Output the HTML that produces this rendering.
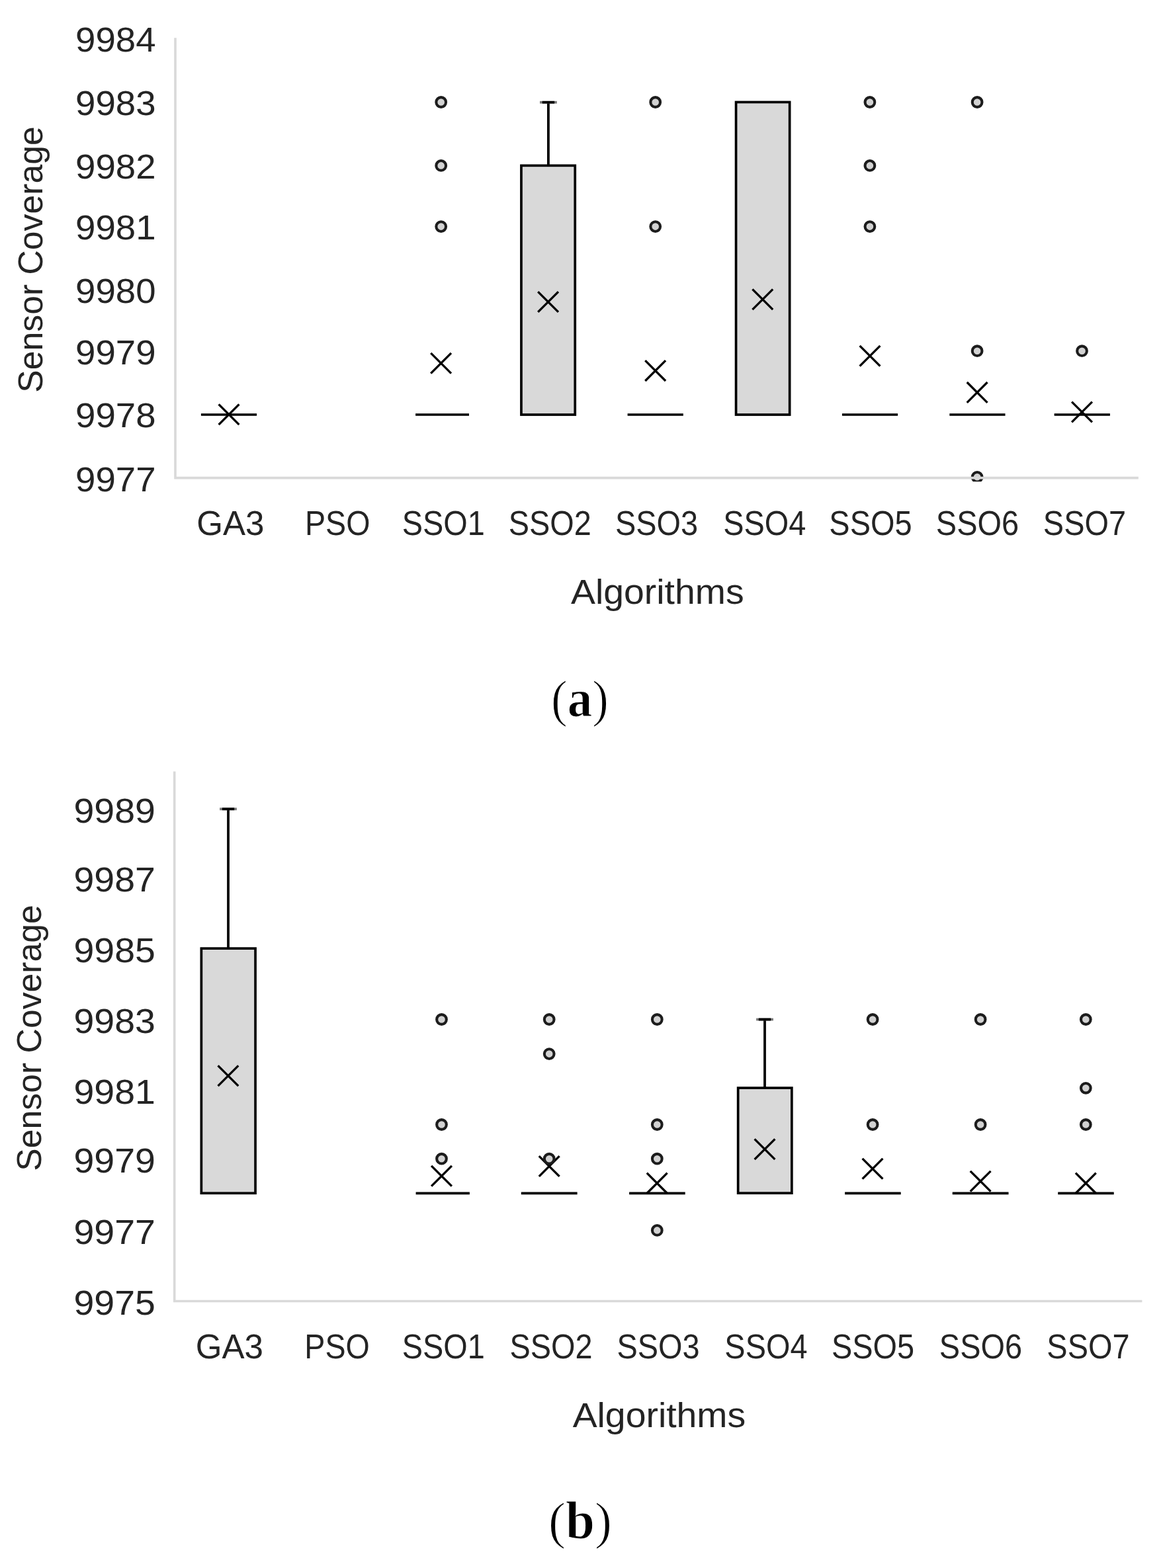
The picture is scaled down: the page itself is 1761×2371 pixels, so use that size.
<!DOCTYPE html>
<html lang="en">
<head>
<meta charset="utf-8">
<title>Sensor coverage box plots</title>
<style>
html,body{margin:0;padding:0;background:#fff;}
body{width:1761px;height:2371px;overflow:hidden;}
svg{display:block;}
text{white-space:pre;text-anchor:middle;}
text.s{font-family:"Liberation Sans", "DejaVu Sans", sans-serif;font-size:52px;fill:#242424;}
text.c{font-family:"Liberation Serif", "DejaVu Serif", serif;font-size:74px;fill:#000;stroke:#fff;stroke-width:1.1px;}
text.c tspan{font-weight:700;font-size:75px;}
</style>
</head>
<body>
<svg role="img" aria-label="Box plots of sensor coverage by algorithm" width="1761" height="2371" viewBox="0 0 1761 2371">
<rect width="1761" height="2371" fill="#fff"/>
<defs><clipPath id="clipA"><rect x="0" y="0" width="1761" height="728.2"/></clipPath></defs>
<g id="boxes">
<line x1="303.90" y1="627.00" x2="388.10" y2="627.00" stroke="#000" stroke-width="3.70"/>
<line x1="628.10" y1="627.00" x2="709.00" y2="627.00" stroke="#000" stroke-width="3.70"/>
<line x1="828.90" y1="154.70" x2="828.90" y2="250.40" stroke="#000" stroke-width="3.80"/><line x1="816.00" y1="154.70" x2="841.80" y2="154.70" stroke="#7a7a7a" stroke-width="3.80"/><line x1="819.70" y1="154.70" x2="838.10" y2="154.70" stroke="#000" stroke-width="3.80"/>
<rect x="787.95" y="250.35" width="81.30" height="376.70" fill="#d9d9d9" stroke="#000" stroke-width="3.70"/>
<line x1="948.60" y1="627.00" x2="1032.80" y2="627.00" stroke="#000" stroke-width="3.70"/>
<rect x="1112.55" y="154.45" width="81.10" height="472.60" fill="#d9d9d9" stroke="#000" stroke-width="3.70"/>
<line x1="1272.90" y1="627.00" x2="1357.10" y2="627.00" stroke="#000" stroke-width="3.70"/>
<line x1="1435.30" y1="627.00" x2="1519.50" y2="627.00" stroke="#000" stroke-width="3.70"/>
<line x1="1593.60" y1="627.00" x2="1677.90" y2="627.00" stroke="#000" stroke-width="3.70"/>
<line x1="345.00" y1="1223.30" x2="345.00" y2="1434.20" stroke="#000" stroke-width="3.80"/><line x1="332.10" y1="1223.30" x2="357.90" y2="1223.30" stroke="#7a7a7a" stroke-width="3.80"/><line x1="335.80" y1="1223.30" x2="354.20" y2="1223.30" stroke="#000" stroke-width="3.80"/>
<rect x="304.35" y="1434.15" width="81.70" height="370.10" fill="#d9d9d9" stroke="#000" stroke-width="3.70"/>
<line x1="628.60" y1="1804.40" x2="709.90" y2="1804.40" stroke="#000" stroke-width="3.70"/>
<line x1="787.80" y1="1804.40" x2="872.60" y2="1804.40" stroke="#000" stroke-width="3.70"/>
<line x1="951.10" y1="1804.40" x2="1035.70" y2="1804.40" stroke="#000" stroke-width="3.70"/>
<line x1="1156.00" y1="1541.50" x2="1156.00" y2="1645.00" stroke="#000" stroke-width="3.80"/><line x1="1143.10" y1="1541.50" x2="1168.90" y2="1541.50" stroke="#7a7a7a" stroke-width="3.80"/><line x1="1146.80" y1="1541.50" x2="1165.20" y2="1541.50" stroke="#000" stroke-width="3.80"/>
<rect x="1115.65" y="1645.05" width="81.20" height="159.10" fill="#d9d9d9" stroke="#000" stroke-width="3.70"/>
<line x1="1277.10" y1="1804.40" x2="1361.70" y2="1804.40" stroke="#000" stroke-width="3.70"/>
<line x1="1439.70" y1="1804.40" x2="1524.50" y2="1804.40" stroke="#000" stroke-width="3.70"/>
<line x1="1599.20" y1="1804.40" x2="1683.70" y2="1804.40" stroke="#000" stroke-width="3.70"/>
</g>
<g id="means" stroke="#000" stroke-width="3.30" fill="none">
<path d="M330.6 611.3L361.4 642.1M330.6 642.1L361.4 611.3"/>
<path d="M651.2 533.8L682.0 564.6M651.2 564.6L682.0 533.8"/>
<path d="M813.2 441.1L844.0 471.9M813.2 471.9L844.0 441.1"/>
<path d="M975.3 545.2L1006.1 576.0M975.3 576.0L1006.1 545.2"/>
<path d="M1137.4 437.3L1168.2 468.1M1137.4 468.1L1168.2 437.3"/>
<path d="M1299.6 522.8L1330.4 553.6M1299.6 553.6L1330.4 522.8"/>
<path d="M1461.7 578.0L1492.5 608.8M1461.7 608.8L1492.5 578.0"/>
<path d="M1620.1 607.6L1650.9 638.4M1620.1 638.4L1650.9 607.6"/>
<path d="M329.5 1611.3L360.3 1642.1M329.5 1642.1L360.3 1611.3"/>
<path d="M652.1 1762.9L682.9 1793.7M652.1 1793.7L682.9 1762.9"/>
<path d="M814.8 1748.1L845.6 1778.9M814.8 1778.9L845.6 1748.1"/>
<path d="M977.8 1773.7L1008.6 1804.5M977.8 1804.5L1008.6 1773.7"/>
<path d="M1140.6 1722.3L1171.4 1753.1M1140.6 1753.1L1171.4 1722.3"/>
<path d="M1303.6 1751.9L1334.4 1782.7M1303.6 1782.7L1334.4 1751.9"/>
<path d="M1466.7 1770.8L1497.5 1801.6M1466.7 1801.6L1497.5 1770.8"/>
<path d="M1625.9 1773.7L1656.7 1804.5M1625.9 1804.5L1656.7 1773.7"/>
</g>
<g id="outliers" fill="#d2d2d2" stroke="#1c1c1c" stroke-width="4.10">
<circle cx="666.7" cy="154.5" r="7.35"/>
<circle cx="666.7" cy="250.4" r="7.35"/>
<circle cx="666.7" cy="342.6" r="7.35"/>
<circle cx="990.7" cy="154.5" r="7.35"/>
<circle cx="990.7" cy="342.6" r="7.35"/>
<circle cx="1314.9" cy="154.5" r="7.35"/>
<circle cx="1314.9" cy="250.4" r="7.35"/>
<circle cx="1314.9" cy="342.6" r="7.35"/>
<circle cx="1477.1" cy="154.5" r="7.35"/>
<circle cx="1477.1" cy="530.7" r="7.35"/>
<circle cx="1477.1" cy="721.3" r="7.35" clip-path="url(#clipA)"/>
<circle cx="1635.5" cy="530.7" r="7.35"/>
<circle cx="667.5" cy="1541.5" r="7.35"/>
<circle cx="667.5" cy="1700.5" r="7.35"/>
<circle cx="667.5" cy="1752.2" r="7.35"/>
<circle cx="830.2" cy="1541.5" r="7.35"/>
<circle cx="830.2" cy="1593.6" r="7.35"/>
<circle cx="830.2" cy="1752.2" r="7.35"/>
<circle cx="993.3" cy="1541.5" r="7.35"/>
<circle cx="993.3" cy="1700.5" r="7.35"/>
<circle cx="993.3" cy="1752.2" r="7.35"/>
<circle cx="993.3" cy="1860.4" r="7.35"/>
<circle cx="1319.1" cy="1541.5" r="7.35"/>
<circle cx="1319.1" cy="1700.5" r="7.35"/>
<circle cx="1482.1" cy="1541.5" r="7.35"/>
<circle cx="1482.1" cy="1700.5" r="7.35"/>
<circle cx="1641.3" cy="1541.5" r="7.35"/>
<circle cx="1641.3" cy="1645.3" r="7.35"/>
<circle cx="1641.3" cy="1700.5" r="7.35"/>
</g>
<g id="axes">
<path d="M265.0 57.2V722.6H1720.8" fill="none" stroke="#d9d9d9" stroke-width="3.6"/>
<path d="M263.7 1166.4V1967.5H1726.4" fill="none" stroke="#d9d9d9" stroke-width="3.6"/>
</g>
<g id="labels">
<text id="a_y9984" class="s" transform="translate(174.80 78.40) scale(1.0500 0.9850)">9984</text>
<text id="a_y9983" class="s" transform="translate(174.80 174.10) scale(1.0500 0.9850)">9983</text>
<text id="a_y9982" class="s" transform="translate(174.80 270.20) scale(1.0500 0.9850)">9982</text>
<text id="a_y9981" class="s" transform="translate(174.80 362.40) scale(1.0500 0.9850)">9981</text>
<text id="a_y9980" class="s" transform="translate(174.80 458.40) scale(1.0500 0.9850)">9980</text>
<text id="a_y9979" class="s" transform="translate(174.80 550.50) scale(1.0500 0.9850)">9979</text>
<text id="a_y9978" class="s" transform="translate(174.80 646.20) scale(1.0500 0.9850)">9978</text>
<text id="a_y9977" class="s" transform="translate(174.80 742.50) scale(1.0500 0.9850)">9977</text>
<text id="a_xGA3" class="s" transform="translate(348.30 809.10) scale(0.9830 0.9900)">GA3</text>
<text id="a_xPSO" class="s" transform="translate(510.20 809.10) scale(0.8970 0.9900)">PSO</text>
<text id="a_xSSO1" class="s" transform="translate(670.20 809.10) scale(0.9020 0.9900)">SSO1</text>
<text id="a_xSSO2" class="s" transform="translate(831.20 809.10) scale(0.9020 0.9900)">SSO2</text>
<text id="a_xSSO3" class="s" transform="translate(992.50 809.10) scale(0.9020 0.9900)">SSO3</text>
<text id="a_xSSO4" class="s" transform="translate(1155.70 809.10) scale(0.9020 0.9900)">SSO4</text>
<text id="a_xSSO5" class="s" transform="translate(1315.90 809.10) scale(0.9020 0.9900)">SSO5</text>
<text id="a_xSSO6" class="s" transform="translate(1477.40 809.10) scale(0.9020 0.9900)">SSO6</text>
<text id="a_xSSO7" class="s" transform="translate(1639.40 809.10) scale(0.9020 0.9900)">SSO7</text>
<text id="a_xt" class="s" transform="translate(993.80 912.50) scale(1.0650 0.9900)">Algorithms</text>
<text id="a_yt" class="s" transform="translate(64.20 392.50) rotate(-90) scale(0.9950 0.9850)">Sensor Coverage</text>
<text id="a_cap" class="c" transform="translate(876.50 1082.85) scale(1.0000 1.0700)">(<tspan>a</tspan>)</text>
<text id="b_y9989" class="s" transform="translate(173.20 1244.20) scale(1.0660 0.9850)">9989</text>
<text id="b_y9987" class="s" transform="translate(173.20 1347.70) scale(1.0660 0.9850)">9987</text>
<text id="b_y9985" class="s" transform="translate(173.20 1455.20) scale(1.0660 0.9850)">9985</text>
<text id="b_y9983" class="s" transform="translate(173.20 1561.60) scale(1.0660 0.9850)">9983</text>
<text id="b_y9981" class="s" transform="translate(173.20 1668.80) scale(1.0660 0.9850)">9981</text>
<text id="b_y9979" class="s" transform="translate(173.20 1772.90) scale(1.0660 0.9850)">9979</text>
<text id="b_y9977" class="s" transform="translate(173.20 1880.50) scale(1.0660 0.9850)">9977</text>
<text id="b_y9975" class="s" transform="translate(173.20 1988.00) scale(1.0660 0.9850)">9975</text>
<text id="b_xGA3" class="s" transform="translate(346.80 2054.30) scale(0.9830 0.9900)">GA3</text>
<text id="b_xPSO" class="s" transform="translate(509.60 2054.30) scale(0.8970 0.9900)">PSO</text>
<text id="b_xSSO1" class="s" transform="translate(670.20 2054.30) scale(0.9020 0.9900)">SSO1</text>
<text id="b_xSSO2" class="s" transform="translate(833.00 2054.30) scale(0.9020 0.9900)">SSO2</text>
<text id="b_xSSO3" class="s" transform="translate(995.00 2054.30) scale(0.9020 0.9900)">SSO3</text>
<text id="b_xSSO4" class="s" transform="translate(1157.90 2054.30) scale(0.9020 0.9900)">SSO4</text>
<text id="b_xSSO5" class="s" transform="translate(1319.50 2054.30) scale(0.9020 0.9900)">SSO5</text>
<text id="b_xSSO6" class="s" transform="translate(1482.40 2054.30) scale(0.9020 0.9900)">SSO6</text>
<text id="b_xSSO7" class="s" transform="translate(1644.90 2054.30) scale(0.9020 0.9900)">SSO7</text>
<text id="b_xt" class="s" transform="translate(996.40 2157.50) scale(1.0650 0.9900)">Algorithms</text>
<text id="b_yt" class="s" transform="translate(62.30 1569.40) rotate(-90) scale(0.9950 0.9850)">Sensor Coverage</text>
<text id="b_cap" class="c" transform="translate(877.10 2325.75) scale(1.0550 1.0700)">(<tspan>b</tspan>)</text>
</g>
</svg>
</body>
</html>
